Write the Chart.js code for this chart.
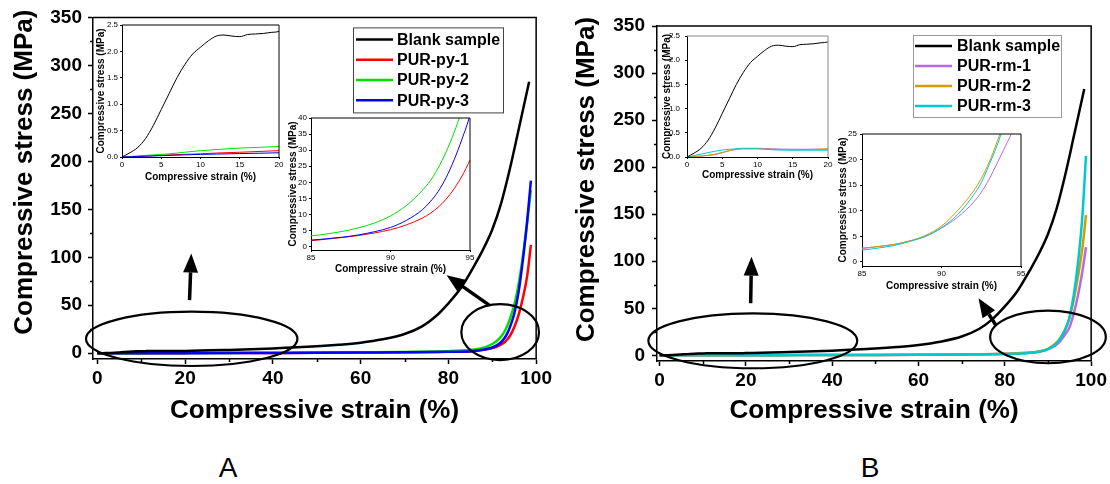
<!DOCTYPE html>
<html>
<head>
<meta charset="utf-8">
<script src="https://cdn.jsdelivr.net/npm/chart.js@4.4.0/dist/chart.umd.min.js"></script>
<style>
  body { margin: 0; background: #fff; }
  #wrap { position: relative; width: 1110px; height: 484px; overflow: hidden; background: #fff; }
  #wrap canvas { position: absolute; }
  .tag { position: absolute; transform: translate(-50%, -50%); font: 28px 'Liberation Sans', Arial, sans-serif; color: #000; }
</style>
</head>
<body>
<div id="wrap">
  <canvas id="mainA" width="555" height="440" style="left:0;top:0"></canvas>
  <canvas id="mainB" width="555" height="440" style="left:555px;top:0"></canvas>
  <canvas id="insetA1" width="200" height="175" style="left:90px;top:15px"></canvas>
  <canvas id="insetA2" width="200" height="175" style="left:280px;top:108px"></canvas>
  <canvas id="insetB1" width="190" height="165" style="left:655px;top:25px"></canvas>
  <canvas id="insetB2" width="200" height="175" style="left:830px;top:124px"></canvas>
  <div class="tag" style="left:228px;top:468px">A</div>
  <div class="tag" style="left:870px;top:468px">B</div>
</div>
<script>
// strain (%) / stress (MPa) readings
const blankStrain = [0, 1, 2, 3, 4, 5, 6, 7, 8, 9, 10, 11, 12, 13, 14, 15, 16, 17, 18, 19, 20,
  30, 40, 50, 55, 60, 65, 70, 74, 77, 80, 83, 86, 88, 90, 92, 94, 96, 98.4];
const blankStress = [0, 0.08, 0.18, 0.35, 0.6, 0.9, 1.2, 1.5, 1.75, 1.95, 2.08, 2.2, 2.29, 2.31, 2.29, 2.28, 2.32, 2.33, 2.34, 2.36, 2.38,
  3.5, 5, 7.2, 8.8, 11, 14.5, 20, 28, 38, 52, 69, 92, 109, 129, 156, 192, 233, 283];

const purStrain = [0, 2, 4, 6, 8, 10, 12, 15, 20, 30, 40, 50, 60, 70, 80,
  85, 86, 87, 88, 89, 90, 91, 92, 92.5, 93, 93.5, 94, 94.5, 95, 96, 97, 98, 98.8];
const py1Stress = [0, 0.01, 0.025, 0.04, 0.05, 0.06, 0.075, 0.09, 0.12, 0.2, 0.35, 0.5, 0.75, 1.0, 1.5,
  1.9, 2.4, 2.9, 3.5, 4.3, 5.3, 6.8, 8.9, 10.4, 12.3, 14.8, 18, 22, 27, 40, 58, 82, 113];
const py2Stress = [0, 0.02, 0.04, 0.06, 0.09, 0.12, 0.14, 0.17, 0.2, 0.35, 0.5, 0.7, 1.0, 1.4, 2.2,
  3.4, 4.0, 4.8, 5.9, 7.4, 9.6, 12.8, 17.5, 20.5, 24.5, 29.5, 35.5, 42.5, 50, 72, 102, 138, 170];
const py3Stress = [0, 0.01, 0.02, 0.03, 0.04, 0.05, 0.055, 0.065, 0.08, 0.15, 0.3, 0.45, 0.7, 1.0, 1.5,
  2.1, 2.5, 3.0, 3.7, 4.7, 6.0, 8.2, 11.5, 14, 17.2, 21.5, 27, 33.5, 41, 64, 98, 140, 180];
const rm1Stress = [0, 0.02, 0.05, 0.13, 0.18, 0.18, 0.17, 0.16, 0.16, 0.25, 0.35, 0.5, 0.7, 1.0, 1.6,
  2.6, 3.0, 3.4, 4.1, 5.0, 6.6, 8.7, 11.6, 13.6, 16.2, 19.3, 22.5, 25.8, 30, 45, 65, 90, 115];
const rm2Stress = [0, 0.02, 0.06, 0.13, 0.17, 0.17, 0.16, 0.15, 0.17, 0.25, 0.35, 0.5, 0.7, 1.0, 1.6,
  2.7, 3.0, 3.4, 4.1, 5.2, 7.0, 10.0, 13.8, 16.3, 19.5, 23.5, 28, 33, 40, 60, 85, 115, 149];
const rm3Stress = [0, 0.06, 0.12, 0.16, 0.17, 0.17, 0.15, 0.14, 0.14, 0.22, 0.32, 0.45, 0.65, 0.95, 1.5,
  2.3, 2.7, 3.2, 4.0, 5.0, 6.7, 9.2, 13.0, 15.5, 19, 22.8, 27.5, 33.5, 41, 65, 100, 150, 212];

// axis ticks
const mainStrainTicks = [0, 20, 40, 60, 80, 100];
const mainStrainMinor = [10, 30, 50, 70, 90];
const mainStressTicks = [0, 50, 100, 150, 200, 250, 300, 350];
const mainStressMinor = [25, 75, 125, 175, 225, 275, 325];
const lowStrainTicks = [0, 5, 10, 15, 20];
const lowStressTicks = [0, 0.5, 1.0, 1.5, 2.0, 2.5];
const highStrainTicks = [85, 90, 95];
const pyStressTicks = [0, 5, 10, 15, 20, 25, 30, 35, 40];
const rmStressTicks = [0, 5, 10, 15, 20, 25];

Chart.defaults.font.family = "'Liberation Sans', Arial, sans-serif";
Chart.defaults.color = '#000';

// top and right edges of the plot box
const frameBox = {
  id: 'frameBox',
  afterDatasetsDraw(chart, args, o) {
    const { ctx, chartArea: a } = chart;
    ctx.save();
    ctx.strokeStyle = o.color || '#000';
    ctx.lineWidth = o.width || 1;
    ctx.beginPath();
    ctx.moveTo(a.left, a.top);
    ctx.lineTo(a.right, a.top);
    ctx.lineTo(a.right, a.bottom);
    ctx.stroke();
    ctx.restore();
  }
};

// short unlabeled ticks between the major ones
const minorTicks = {
  id: 'minorTicks',
  afterDraw(chart, args, o) {
    if (!o.x && !o.y) return;
    const { ctx, scales } = chart;
    ctx.save();
    ctx.strokeStyle = '#000';
    ctx.lineWidth = o.width || 1;
    ctx.beginPath();
    (o.x || []).forEach(v => {
      const px = Math.round(scales.x.getPixelForValue(v)) + 0.5;
      ctx.moveTo(px, scales.x.top);
      ctx.lineTo(px, scales.x.top + o.len);
    });
    (o.y || []).forEach(v => {
      const py = Math.round(scales.y.getPixelForValue(v)) + 0.5;
      ctx.moveTo(scales.y.right, py);
      ctx.lineTo(scales.y.right - o.len, py);
    });
    ctx.stroke();
    ctx.restore();
  }
};

// rotated y title placed off-centre
const sideTitle = {
  id: 'sideTitle',
  afterDraw(chart, args, o) {
    if (!o.text) return;
    const { ctx, chartArea: a } = chart;
    ctx.save();
    ctx.translate(o.x, (a.top + a.bottom) / 2 + o.shift);
    ctx.rotate(-Math.PI / 2);
    ctx.font = o.font;
    ctx.fillStyle = '#000';
    ctx.textAlign = 'center';
    ctx.textBaseline = 'middle';
    ctx.fillText(o.text, 0, 0);
    ctx.restore();
  }
};

// boxed legend inside the plot
const boxLegend = {
  id: 'boxLegend',
  afterDraw(chart, args, o) {
    if (!o.display) return;
    const { ctx, chartArea: a } = chart;
    const x = a.left + o.left, y = a.top + o.top;
    ctx.save();
    ctx.strokeStyle = o.borderColor;
    ctx.lineWidth = 1;
    ctx.strokeRect(x + 0.5, y + 0.5, o.width, o.height);
    ctx.font = o.font;
    ctx.textBaseline = 'middle';
    ctx.fillStyle = '#000';
    chart.data.datasets.forEach((ds, i) => {
      const ry = y + o.firstRow + i * o.rowGap;
      ctx.strokeStyle = ds.borderColor;
      ctx.lineWidth = 2.5;
      ctx.beginPath();
      ctx.moveTo(x + o.lineStart, ry);
      ctx.lineTo(x + o.lineStart + o.lineLen, ry);
      ctx.stroke();
      ctx.fillText(ds.label, x + o.textStart, ry + 1);
    });
    ctx.restore();
  }
};

// hand-drawn ellipses and arrows pointing at the zoomed regions
const sketchMarks = {
  id: 'sketchMarks',
  afterDraw(chart, args, o) {
    if (!o.ellipses && !o.arrows) return;
    const { ctx, scales: { x, y } } = chart;
    ctx.save();
    ctx.strokeStyle = '#000';
    ctx.fillStyle = '#000';
    (o.ellipses || []).forEach(e => {
      const cx = x.getPixelForValue(e.x), cy = y.getPixelForValue(e.y);
      const rx = Math.abs(x.getPixelForValue(e.x + e.rx) - cx);
      const ry = Math.abs(y.getPixelForValue(e.y + e.ry) - cy);
      ctx.lineWidth = 2.2;
      ctx.beginPath();
      ctx.ellipse(cx, cy, rx, ry, 0, 0, Math.PI * 2);
      ctx.stroke();
    });
    (o.arrows || []).forEach(r => {
      const x0 = x.getPixelForValue(r.x0), y0 = y.getPixelForValue(r.y0);
      const x1 = x.getPixelForValue(r.x1), y1 = y.getPixelForValue(r.y1);
      const ang = Math.atan2(y1 - y0, x1 - x0);
      const hl = 19, hw = 15;
      const bx = x1 - hl * Math.cos(ang), by = y1 - hl * Math.sin(ang);
      ctx.lineWidth = 3.5;
      ctx.beginPath();
      ctx.moveTo(x0, y0);
      ctx.lineTo(bx, by);
      ctx.stroke();
      ctx.beginPath();
      ctx.moveTo(x1, y1);
      ctx.lineTo(bx + hw / 2 * Math.sin(ang), by - hw / 2 * Math.cos(ang));
      ctx.lineTo(bx - hw / 2 * Math.sin(ang), by + hw / 2 * Math.cos(ang));
      ctx.closePath();
      ctx.fill();
    });
    ctx.restore();
  }
};

Chart.register(frameBox, minorTicks, sideTitle, boxLegend, sketchMarks);

function series(label, xs, ys, color, width, order) {
  return {
    label,
    data: xs.map((v, i) => ({ x: v, y: ys[i] })),
    borderColor: color,
    backgroundColor: color,
    borderWidth: width,
    pointRadius: 0,
    cubicInterpolationMode: 'monotone',
    fill: false,
    order
  };
}

function axis(c) {
  return {
    type: 'linear',
    min: c.min,
    max: c.max,
    afterBuildTicks: s => { s.ticks = c.ticks.map(v => ({ value: v })); },
    afterFit: s => { if (s.isHorizontal()) s.height = c.box; else s.width = c.box; },
    border: { display: true, color: '#000', width: c.line },
    grid: { display: true, drawOnChartArea: false, drawTicks: true, tickLength: c.tickLen, tickWidth: c.line, tickColor: '#000' },
    ticks: {
      color: '#000',
      font: { size: c.fontSize, weight: c.weight || 'normal' },
      padding: c.pad,
      maxRotation: 0,
      autoSkip: false,
      callback: c.fmt || (v => v)
    },
    title: c.title
      ? { display: true, text: c.title, color: '#000', font: { size: c.titleSize, weight: 'bold' }, padding: c.titlePad }
      : { display: false }
  };
}

function build(id, datasets, scales, padding, plugins) {
  return new Chart(document.getElementById(id), {
    type: 'line',
    data: { datasets },
    options: {
      responsive: false,
      animation: false,
      devicePixelRatio: 1,
      events: [],
      layout: { padding },
      scales,
      plugins: Object.assign({ legend: { display: false }, tooltip: { enabled: false } }, plugins)
    }
  });
}

function pySets(width) {
  return [
    series('Blank sample', blankStrain, blankStress, '#000000', width, 0),
    series('PUR-py-1', purStrain, py1Stress, '#ff0000', width, 3),
    series('PUR-py-2', purStrain, py2Stress, '#00e000', width, 2),
    series('PUR-py-3', purStrain, py3Stress, '#0000ff', width, 1)
  ];
}

function rmSets(width) {
  return [
    series('Blank sample', blankStrain, blankStress, '#000000', width, 0),
    series('PUR-rm-1', purStrain, rm1Stress, '#b469e8', width, 3),
    series('PUR-rm-2', purStrain, rm2Stress, '#d49b00', width, 2),
    series('PUR-rm-3', purStrain, rm3Stress, '#00c9c9', width, 1)
  ];
}

const stressTitle = 'Compressive stress (MPa)';
const strainTitle = 'Compressive strain (%)';

// main panels
build('mainA', pySets(2.5), {
  x: axis({ min: -1, max: 100, ticks: mainStrainTicks, box: 81, line: 1.5, tickLen: 5, fontSize: 19, weight: 'bold', pad: 3,
    title: strainTitle, titleSize: 26, titlePad: { top: 0, bottom: 14 } }),
  y: axis({ min: -6, max: 350, ticks: mainStressTicks, box: 93, line: 1.5, tickLen: 5, fontSize: 19, weight: 'bold', pad: 6 })
}, { left: 0, top: 17, right: 17, bottom: 0 }, {
  frameBox: { width: 1.5 },
  minorTicks: { x: mainStrainMinor, y: mainStressMinor, len: 3, width: 1.5 },
  sideTitle: { text: stressTitle, font: "bold 26px 'Liberation Sans', Arial, sans-serif", x: 25, shift: -16 },
  boxLegend: { display: true, left: 260, top: 10, width: 150, height: 85, firstRow: 12, rowGap: 20.3,
    lineStart: 3, lineLen: 37, textStart: 44, font: "bold 16px 'Liberation Sans', Arial, sans-serif", borderColor: '#444' },
  sketchMarks: {
    ellipses: [{ x: 21.5, y: 15, rx: 24.1, ry: 28.3 }, { x: 91.8, y: 22, rx: 8.85, ry: 29.1 }],
    arrows: [{ x0: 21.0, y0: 55.4, x1: 21.4, y1: 104 }, { x0: 89.3, y0: 50.2, x1: 79.6, y1: 81.4 }]
  }
});

build('mainB', rmSets(2.5), {
  x: axis({ min: -0.6, max: 100, ticks: mainStrainTicks, box: 79, line: 1.5, tickLen: 5, fontSize: 19, weight: 'bold', pad: 3,
    title: strainTitle, titleSize: 26, titlePad: { top: 0, bottom: 14 } }),
  y: axis({ min: -6, max: 350, ticks: mainStressTicks, box: 102, line: 1.5, tickLen: 5, fontSize: 19, weight: 'bold', pad: 7 })
}, { left: 0, top: 26, right: 18, bottom: 0 }, {
  frameBox: { width: 1.5 },
  minorTicks: { x: mainStrainMinor, y: mainStressMinor, len: 3, width: 1.5 },
  sideTitle: { text: stressTitle, font: "bold 26px 'Liberation Sans', Arial, sans-serif", x: 32, shift: -14 },
  boxLegend: { display: true, left: 256, top: 9, width: 148, height: 82, firstRow: 11, rowGap: 20,
    lineStart: 2, lineLen: 37, textStart: 44, font: "bold 16px 'Liberation Sans', Arial, sans-serif", borderColor: '#999' },
  sketchMarks: {
    ellipses: [{ x: 21.6, y: 15.5, rx: 24.2, ry: 29.2 }, { x: 90.0, y: 19.6, rx: 13.4, ry: 28 }],
    arrows: [{ x0: 21.1, y0: 55.4, x1: 21.3, y1: 104.9 }, { x0: 77.9, y0: 32.3, x1: 73.9, y1: 60.7 }]
  }
});

// zoomed insets
const insetTick = { line: 1, tickLen: 2, fontSize: 8 };

build('insetA1', pySets(1), {
  x: axis(Object.assign({ min: 0, max: 20, ticks: lowStrainTicks, box: 33, pad: 1,
    title: strainTitle, titleSize: 10, titlePad: { top: 0, bottom: 7 } }, insetTick)),
  y: axis(Object.assign({ min: 0, max: 2.5, ticks: lowStressTicks, box: 32, pad: 2, fmt: v => v.toFixed(1),
    title: stressTitle, titleSize: 10, titlePad: { top: 5, bottom: 0 } }, insetTick))
}, { left: 0, top: 10, right: 11, bottom: 0 }, { frameBox: { width: 1 } });

build('insetA2', pySets(1), {
  x: axis(Object.assign({ min: 85, max: 95, ticks: highStrainTicks, box: 33, pad: 1,
    title: strainTitle, titleSize: 10, titlePad: { top: 0, bottom: 7.5 } }, insetTick)),
  y: axis(Object.assign({ min: -1, max: 40, ticks: pyStressTicks, box: 31, pad: 2,
    title: stressTitle, titleSize: 10, titlePad: { top: 7.5, bottom: 0 } }, insetTick))
}, { left: 0, top: 10, right: 10, bottom: 0 }, { frameBox: { width: 1 } });

build('insetB1', rmSets(1), {
  x: axis(Object.assign({ min: 0, max: 20, ticks: lowStrainTicks, box: 33, pad: 1,
    title: strainTitle, titleSize: 10, titlePad: { top: 0, bottom: 9 } }, insetTick)),
  y: axis(Object.assign({ min: 0, max: 2.5, ticks: lowStressTicks, box: 32, pad: 5, fmt: v => v.toFixed(1),
    title: stressTitle, titleSize: 10, titlePad: { top: 6, bottom: 0 } }, insetTick))
}, { left: 0, top: 11, right: 17, bottom: 0 }, { frameBox: { width: 1, color: '#888' } });

build('insetB2', rmSets(1), {
  x: axis(Object.assign({ min: 85, max: 95, ticks: highStrainTicks, box: 33, pad: 1,
    title: strainTitle, titleSize: 10, titlePad: { top: 0, bottom: 6.5 } }, insetTick)),
  y: axis(Object.assign({ min: -0.8, max: 25, ticks: rmStressTicks, box: 32, pad: 3,
    title: stressTitle, titleSize: 10, titlePad: { top: 7.5, bottom: 0 } }, insetTick))
}, { left: 0, top: 10, right: 9, bottom: 0 }, { frameBox: { width: 1 } });
</script>
</body>
</html>
